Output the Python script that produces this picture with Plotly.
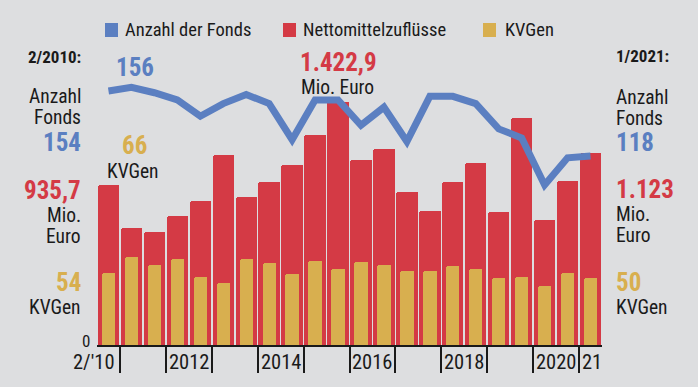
import plotly.graph_objects as go

# ---------------- data ----------------
periods = ["2/2010", "1/2011", "2/2011", "1/2012", "2/2012", "1/2013", "2/2013",
           "1/2014", "2/2014", "1/2015", "2/2015", "1/2016", "2/2016", "1/2017",
           "2/2017", "1/2018", "2/2018", "1/2019", "2/2019", "1/2020", "2/2020",
           "1/2021"]
fonds = [154, 156, 153, 149, 140, 147, 152, 147, 127, 149, 149, 135, 145, 126,
         151, 151, 147, 133, 128, 102, 117, 118]
zufluesse = [935.7, 682, 662, 754, 840, 1113, 865, 953, 1053, 1226, 1422.9, 1082,
             1146, 893, 785, 951, 1063, 780, 1326, 729, 959, 1123]
kvgen = [54, 66, 60, 64, 51, 46, 64, 61, 53, 63, 57, 62, 60, 55, 55, 59, 57, 50,
         51, 44, 54, 50]
year_bounds = [0.5, 2.5, 4.5, 6.5, 8.5, 10.5, 12.5, 14.5, 16.5, 18.5, 20.5]
tick_labels = ["2/'10", "2012", "2014", "2016", "2018", "2020", "21"]
tick_label_pos = [0.37, 3.5, 7.5, 11.5, 15.5, 19.5, 21.05]
series_names = ["Anzahl der Fonds", "Nettomittelzuflüsse", "KVGen"]

# ---------------- style ----------------
W, H = 698, 387
L, R, T, B = 97, 602, 80, 345
BG = "#DDDEE0"
BLUE = "#5B7FC1"
RED = "#D43A45"
GOLD = "#D8AF4F"
INK = "#1A1A1A"
FONT = "Roboto Condensed, Roboto, sans-serif"

x = list(range(len(periods)))

fig = go.Figure()
fig.add_trace(go.Bar(x=x, y=zufluesse, name=series_names[1], yaxis="y",
                     width=0.93, marker=dict(color=RED, line_width=0, cornerradius=2),
                     hovertext=periods, showlegend=False))
fig.add_trace(go.Bar(x=x, y=kvgen, name=series_names[2], yaxis="y2",
                     width=0.58, marker=dict(color=GOLD, line_width=0, cornerradius=2),
                     hovertext=periods, showlegend=False))
fig.add_trace(go.Scatter(x=x, y=fonds, name=series_names[0], yaxis="y3",
                         mode="lines", line=dict(color=BLUE, width=7),
                         hovertext=periods, showlegend=False))


def pxx(px):
    return (px - L) / (R - L)


def pxy(py):
    return (B - py) / (B - T)


annotations = []


def txt(text, px, py, size, color, anchor="right", bold=False):
    annotations.append(dict(
        text=f"<b>{text}</b>" if bold else text,
        xref="paper", yref="paper", x=pxx(px), y=pxy(py),
        xanchor=anchor, yanchor="middle", showarrow=False,
        font=dict(family=FONT, size=size, color=color)))


BIG = 25
MID = 19.5
# left column
for t, yy, s, c, b in [("2/2010:", 57.5, 17, INK, True), ("Anzahl", 96.5, MID, INK, False),
                       ("Fonds", 117.5, MID, INK, False), ("154", 142.5, BIG, BLUE, True),
                       ("935,7", 190.5, BIG, RED, True), ("Mio.", 215.5, MID, INK, False),
                       ("Euro", 236.5, MID, INK, False), ("54", 282.5, BIG, GOLD, True),
                       ("KVGen", 307.5, MID, INK, False)]:
    txt(t, 83, yy, s, c, bold=b)
txt("0", 92, 340.5, 17, INK)

# inside labels
txt("156", 134.5, 67, BIG, BLUE, anchor="center", bold=True)
txt("66", 134, 145, BIG, GOLD, anchor="center", bold=True)
txt("KVGen", 133, 171, MID, INK, anchor="center")
txt("1.422,9", 338, 62, BIG, RED, anchor="center", bold=True)
txt("Mio. Euro", 337.5, 87, MID, INK, anchor="center")

# right column
for t, yy, s, c, b in [("1/2021:", 56, 17, INK, True), ("Anzahl", 97.5, MID, INK, False),
                       ("Fonds", 118, MID, INK, False), ("118", 142.5, BIG, BLUE, True),
                       ("1.123", 189.5, BIG, RED, True), ("Mio.", 214, MID, INK, False),
                       ("Euro", 235, MID, INK, False), ("50", 282, BIG, GOLD, True),
                       ("KVGen", 307.5, MID, INK, False)]:
    txt(t, 614, yy, s, c, anchor="left", bold=b)

# legend (manual)
legend_sq = [(105, BLUE), (283, RED), (483, GOLD)]
legend_tx = [123, 301, 503]
shapes = []
for (sx, col), tx, name in zip(legend_sq, legend_tx, series_names):
    shapes.append(dict(type="rect", xref="paper", yref="paper",
                       x0=pxx(sx), x1=pxx(sx + 13), y0=pxy(37), y1=pxy(23),
                       fillcolor=col, line_width=0, layer="above"))
    txt(name, tx, 30.5, 18.5, INK, anchor="left")

# x tick labels
for lab, pos in zip(tick_labels, tick_label_pos):
    annotations.append(dict(text=lab, xref="x", yref="paper", x=pos, y=pxy(362),
                            xanchor="right" if pos < 0.5 else "center",
                            yanchor="middle", showarrow=False,
                            font=dict(family=FONT, size=20.5, color=INK)))

hidden = dict(visible=False, showgrid=False, zeroline=False, fixedrange=True)
fig.update_layout(
    width=W, height=H,
    margin=dict(l=L, r=W - R, t=T, b=H - B, pad=0),
    paper_bgcolor=BG, plot_bgcolor=BG,
    barmode="overlay", bargap=0,
    showlegend=False,
    font=dict(family=FONT, color=INK),
    xaxis=dict(range=[-0.5, 21.5], showgrid=False, zeroline=False,
               showline=True, linecolor=INK, linewidth=2,
               tickmode="array", tickvals=year_bounds, ticks="outside",
               ticklen=26, tickwidth=1.5, tickcolor=INK, showticklabels=False),
    yaxis=dict(range=[0, 1549.7], **hidden),
    yaxis2=dict(range=[0, 197.9], overlaying="y", **hidden),
    yaxis3=dict(range=[13.47, 160.04], overlaying="y", **hidden),
    annotations=annotations,
    shapes=shapes,
)

fig.write_html("out.html", config={"displayModeBar": False},
               post_script="document.body.style.margin='0px';")
